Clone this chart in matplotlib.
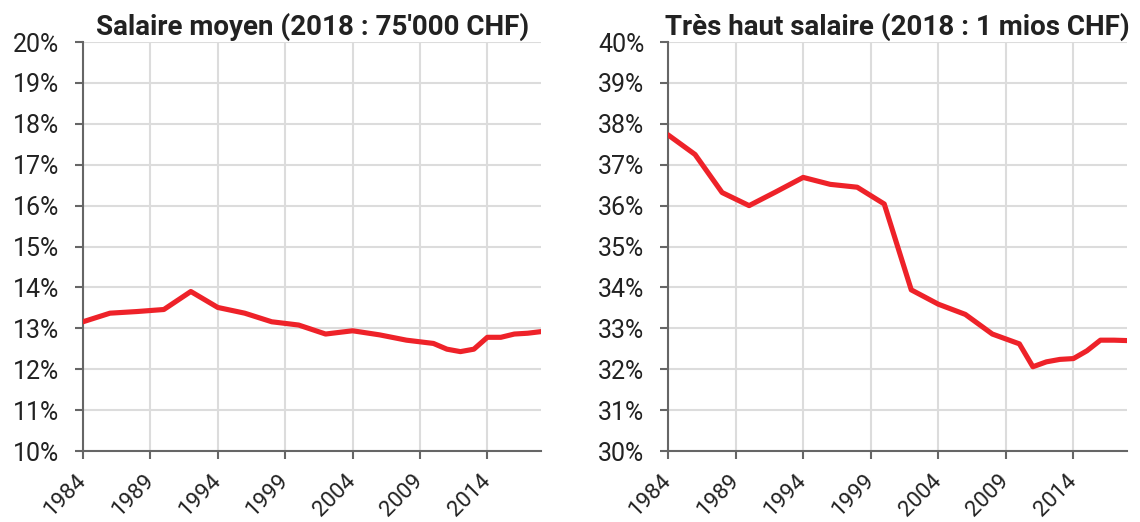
import matplotlib.pyplot as plt
import numpy as np

# average salary panel (share in %)
years_avg = [1984, 1986, 1988, 1990, 1992, 1994, 1996, 1998, 2000, 2002, 2004,
             2006, 2008, 2010, 2011, 2012, 2013, 2014, 2015, 2016, 2017, 2018]
share_avg = [13.16, 13.37, 13.41, 13.46, 13.90, 13.51, 13.37, 13.16, 13.08, 12.86, 12.94,
             12.84, 12.71, 12.63, 12.49, 12.43, 12.49, 12.78, 12.78, 12.86, 12.88, 12.92]

# very high salary panel
years_high = [1984, 1986, 1988, 1990, 1992, 1994, 1996, 1998, 2000, 2002, 2004,
              2006, 2008, 2010, 2011, 2012, 2013, 2014, 2015, 2016, 2017, 2018]
share_high = [37.73, 37.25, 36.32, 36.00, 36.34, 36.69, 36.52, 36.45, 36.04, 33.94, 33.59,
              33.34, 32.86, 32.62, 32.06, 32.18, 32.24, 32.26, 32.45, 32.71, 32.71, 32.70]

titles = ["Salaire moyen (2018 : 75'000 CHF)", "Très haut salaire (2018 : 1 mios CHF)"]
xticks = [1984, 1989, 1994, 1999, 2004, 2009, 2014]

plt.rcParams['font.family'] = ['Roboto', 'DejaVu Sans']

fig = plt.figure(figsize=(11.4, 5.22), dpi=100)
ax1 = fig.add_axes([0.0728, 0.136, 0.402, 0.7835])
ax2 = fig.add_axes([0.586, 0.136, 0.403, 0.7835])

panels = [(ax1, years_avg, share_avg, 10), (ax2, years_high, share_high, 30)]
for (ax, x, y, base), title in zip(panels, titles):
    ax.plot(x, y, color='#ee2229', lw=3.7, solid_capstyle='round', solid_joinstyle='round', zorder=3)
    ax.set_xlim(1984, 2018)
    ax.set_ylim(base, base + 10)
    ax.set_yticks(np.arange(base, base + 11, 1))
    ax.set_yticklabels([f"{v}%" for v in range(base, base + 11)])
    ax.set_xticks(xticks)
    ax.set_xticklabels([str(t) for t in xticks], rotation=45, ha='right', va='center',
                       rotation_mode='anchor', fontsize=16)
    ax.grid(True, color='#dcdcdc', lw=1.5, zorder=0)
    for s in ['top', 'right']:
        ax.spines[s].set_visible(False)
    for s in ['left', 'bottom']:
        ax.spines[s].set_color('#666666')
        ax.spines[s].set_linewidth(1.5)
    ax.tick_params(axis='both', colors='#666666', width=1.5, length=6, labelcolor='#222222')
    ax.tick_params(axis='y', pad=11, labelsize=18)
    ax.tick_params(axis='x', pad=13)
    ax.set_title(title, fontsize=20, fontweight='bold', color='#222222', pad=5)

fig.savefig('out.png', dpi=100)
